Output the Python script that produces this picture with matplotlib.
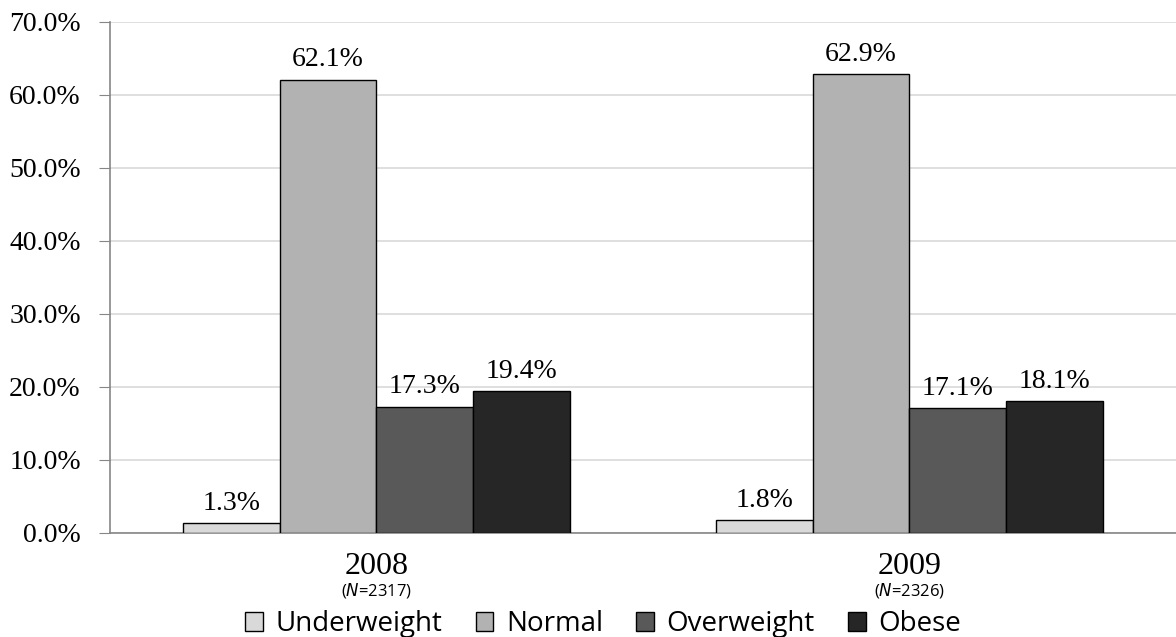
import numpy as np
import matplotlib.pyplot as plt
from matplotlib.patches import Patch

years = ["2008", "2009"]
sample_sizes = ["2317", "2326"]
categories = ["Underweight", "Normal", "Overweight", "Obese"]
underweight = [1.3, 1.8]
normal = [62.1, 62.9]
overweight = [17.3, 17.1]
obese = [19.4, 18.1]

colors = ["#d9d9d9", "#b2b2b2", "#595959", "#262626"]
series = [underweight, normal, overweight, obese]

serif = ["Liberation Serif", "DejaVu Serif"]

fig = plt.figure(figsize=(11.76, 6.37), dpi=100)
ax = fig.add_axes([0.0935, 0.1633, 0.9065, 0.8022])

x = np.arange(len(years))
width = 0.1818
for i, (vals, col) in enumerate(zip(series, colors)):
    pos = x + (i - 1.5) * width
    ax.bar(pos, vals, width, color=col, edgecolor="black", linewidth=1, zorder=3)
    for p, v in zip(pos, vals):
        ax.text(p, v + 1.0, f"{v:.1f}%", ha="center", va="bottom",
                fontsize=20, family=serif)

ax.set_xlim(-0.5, 1.5)
ax.set_ylim(0, 70)
ax.set_yticks(np.arange(0, 71, 10))
ax.set_yticklabels([f"{t:.1f}%" for t in np.arange(0, 71, 10)], family=serif, fontsize=20)
ax.yaxis.grid(True, color="#d9d9d9", linewidth=1.2, zorder=0)
ax.set_axisbelow(True)
ax.tick_params(axis="y", length=8, color="#868686", pad=13)
ax.set_xticks(x)
ax.set_xticklabels([])
ax.tick_params(axis="x", length=0)

for s in ["top", "right"]:
    ax.spines[s].set_visible(False)
ax.spines["left"].set_color("#868686")
ax.spines["bottom"].set_color("#868686")
ax.spines["left"].set_linewidth(1.2)
ax.spines["bottom"].set_linewidth(1.2)

# year labels with sample size underneath
trans = ax.get_xaxis_transform()
for xi, yr, n in zip(x, years, sample_sizes):
    ax.text(xi, -0.066, yr, transform=trans, ha="center", va="center",
            fontsize=23, family=serif)
    ax.text(xi, -0.1135, r"($\it{N}$=" + n + ")", transform=trans, ha="center",
            va="center", fontsize=12, family="Open Sans")

handles = [Patch(facecolor=c, edgecolor="black", label=l) for c, l in zip(colors, categories)]
fig.legend(handles=handles, loc="center", bbox_to_anchor=(0.513, 0.02), ncol=4,
           frameon=False, prop={"family": "Open Sans", "size": 20},
           handlelength=0.64, handleheight=0.64, handletextpad=0.45,
           columnspacing=1.2, borderpad=0, borderaxespad=0)

fig.savefig("out.png", dpi=100)
